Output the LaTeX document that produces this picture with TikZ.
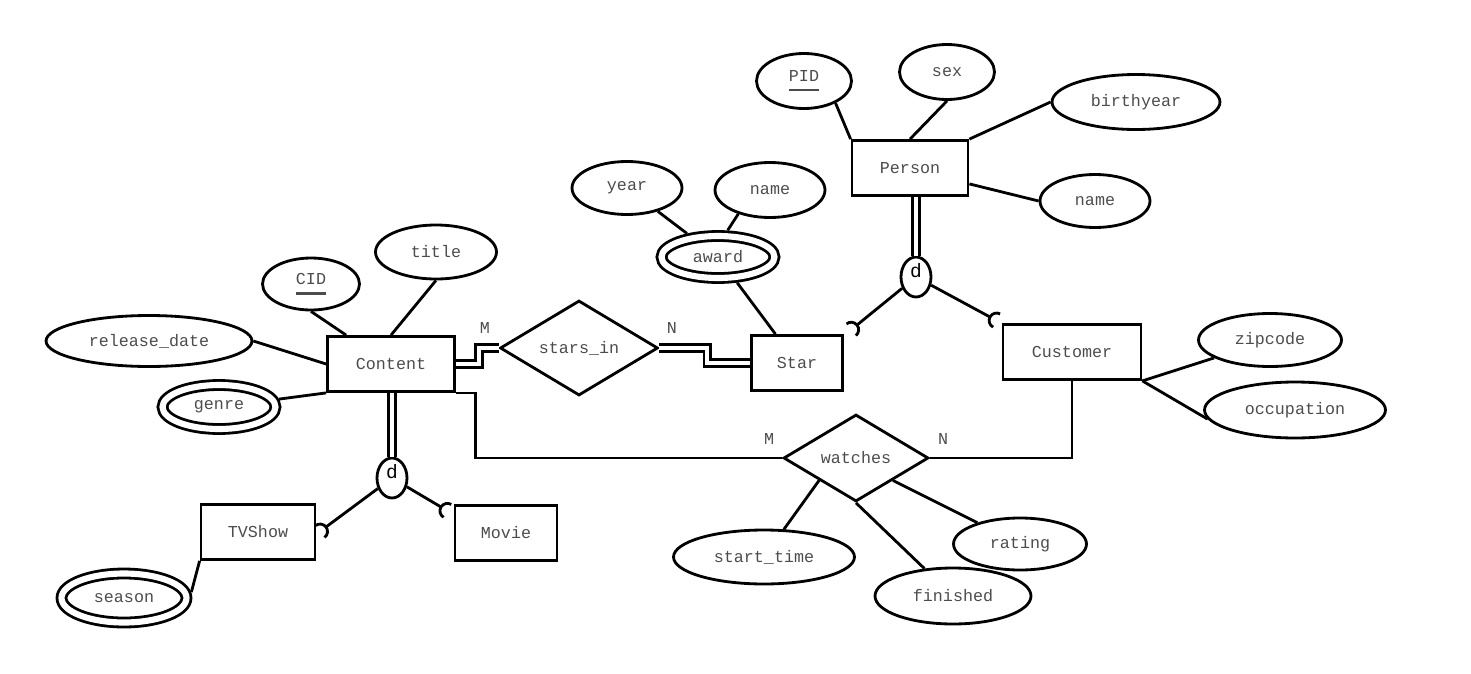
\documentclass[tikz,border=0pt]{standalone}
\usepackage{fontspec}
\setmonofont{Liberation Mono}
\newfontfamily\dfont{Liberation Sans}
\usetikzlibrary{shapes.geometric}

\newcommand{\keyname}[1]{\vtop{\hbox{#1}\kern4pt\hrule height 1.6pt}}

\begin{document}
\begin{tikzpicture}[x=0.02cm,y=-0.02cm,line width=1.6pt,
    every node/.style={font=\ttfamily\fontsize{9.5}{11}\selectfont,text=black!70},
    entity/.style={rectangle,draw,minimum height=1.1cm},
    attr/.style={ellipse,draw,inner sep=0pt},
    multi/.style={attr,double,double distance=3.5pt,outer sep=3.5pt},
    rel/.style={diamond,draw,inner sep=0pt},
    disj/.style={ellipse,draw,inner sep=0pt,minimum width=0.6cm,minimum height=0.8cm,
        font=\dfont\fontsize{11}{12}\selectfont,text=black},
    twin/.style={double,double distance=2.2pt}]

    %\draw [help lines,step=50] (0,0) grid (1471,673);
    \useasboundingbox (0,0) rectangle (1471,673);

    % entities
    \path   (910,168)  node (person)   [entity,minimum width=2.32cm] {Person}
            (391,364)  node (content)  [entity,minimum width=2.54cm] {Content}
            (797,363)  node (star)     [entity,minimum width=1.82cm] {Star}
            (1072,352) node (customer) [entity,minimum width=2.76cm] {Customer}
            (258,532)  node (tvshow)   [entity,minimum width=2.28cm] {TVShow}
            (506,533)  node (movie)    [entity,minimum width=2.04cm] {Movie};

    % relationships
    \path   (579,348) node (starsin) [rel,minimum width=3.16cm,minimum height=1.9cm] {stars\_in}
            (856,458) node (watches) [rel,minimum width=2.9cm,minimum height=1.74cm] {watches};

    % attributes
    \path   (804,81)   node (pid)     [attr,minimum width=1.9cm,minimum height=1.1cm] {\keyname{PID}}
            (947,72)   node (sex)     [attr,minimum width=1.9cm,minimum height=1.1cm] {sex}
            (1136,102) node (birth)   [attr,minimum width=3.36cm,minimum height=1.1cm] {birthyear}
            (1095,201) node (pname)   [attr,minimum width=2.2cm,minimum height=1.06cm] {name}
            (627,188)  node (year)    [attr,minimum width=2.2cm,minimum height=1.06cm] {year}
            (770,190)  node (aname)   [attr,minimum width=2.2cm,minimum height=1.1cm] {name}
            (718,257)  node (award)   [multi,minimum width=2.26cm,minimum height=0.84cm] {award}
            (436,252)  node (title)   [attr,minimum width=2.42cm,minimum height=1.08cm] {title}
            (311,284)  node (cid)     [attr,minimum width=1.94cm,minimum height=1.04cm] {\keyname{CID}}
            (149,341)  node (release) [attr,minimum width=4.12cm,minimum height=1.02cm] {release\_date}
            (219,407)  node (genre)   [multi,minimum width=2.26cm,minimum height=0.88cm] {genre}
            (124,598)  node (season)  [multi,minimum width=2.5cm,minimum height=0.98cm] {season}
            (1270,340) node (zip)     [attr,minimum width=2.86cm,minimum height=1.06cm] {zipcode}
            (1295,410) node (occ)     [attr,minimum width=3.62cm,minimum height=1.12cm] {occupation}
            (764,557)  node (stime)   [attr,minimum width=3.62cm,minimum height=1.08cm] {start\_time}
            (953,596)  node (fin)     [attr,minimum width=3.12cm,minimum height=1.12cm] {finished}
            (1020,544) node (rating)  [attr,minimum width=2.66cm,minimum height=1.04cm] {rating};

    % disjoint specialisations
    \path   (916,277) node (dp) [disj] {\raisebox{3.5pt}[\height][0pt]{d}}
            (392,478) node (dc) [disj] {\raisebox{3.5pt}[\height][0pt]{d}};
    \coordinate (s1) at (857,325);
    \coordinate (s2) at (990,317);
    \coordinate (s3) at (326,527);
    \coordinate (s4) at (441,507);

    % cardinalities
    \path   (485,328) node (m1) {M}
            (672,328) node (n1) {N}
            (769,439) node (m2) {M}
            (943,439) node (n2) {N};

    \draw (pid.-35) -- (person.north west);
    \draw (sex.south) -- (person.north);
    \draw (birth.west) -- (person.north east);
    \draw (pname.west) -- (person.-15);
    \draw (year) -- (award);
    \draw (aname.217) -- (award.70);
    \draw (award) -- (star);
    \draw (title.south) -- (content.north);
    \draw (cid.south) -- ([xshift=0.4cm]content.north west);
    \draw (release.east) -- (content.west);
    \draw (genre) -- (content.south west);
    \draw (season.5) -- (tvshow.south west);
    \draw (zip) -- (customer.south east);
    \draw (occ.186) -- (customer.south east);
    \draw (stime) -- (watches.south west);
    \draw (fin) -- (watches.south);
    \draw (rating) -- (watches.south east);

    \draw[twin] (content.east) -- ++(23,0) |- (starsin.west);
    \draw[twin] (starsin.east) -- ++(48,0) |- (star.west);
    \draw (content.south east) -- ++(20,0) |- (watches.west);
    \draw (watches.east) -| (customer.south);

    \draw[twin] (dp.north) -- (dp.north |- person.south);
    \draw[twin] (dc.north) -- (dc.north |- content.south);
    \draw (dp) -- (s1) (dp) -- (s2);
    \draw (dc) -- (s3) (dc) -- (s4);
    \draw[shift={(s1)},rotate=219] (0.15cm,0.15cm) arc[start angle=90,end angle=270,radius=0.15cm];
    \draw[shift={(s2)},rotate=-28] (0.15cm,0.15cm) arc[start angle=90,end angle=270,radius=0.15cm];
    \draw[shift={(s3)},rotate=217] (0.15cm,0.15cm) arc[start angle=90,end angle=270,radius=0.15cm];
    \draw[shift={(s4)},rotate=-31] (0.15cm,0.15cm) arc[start angle=90,end angle=270,radius=0.15cm];
\end{tikzpicture}
\end{document}
